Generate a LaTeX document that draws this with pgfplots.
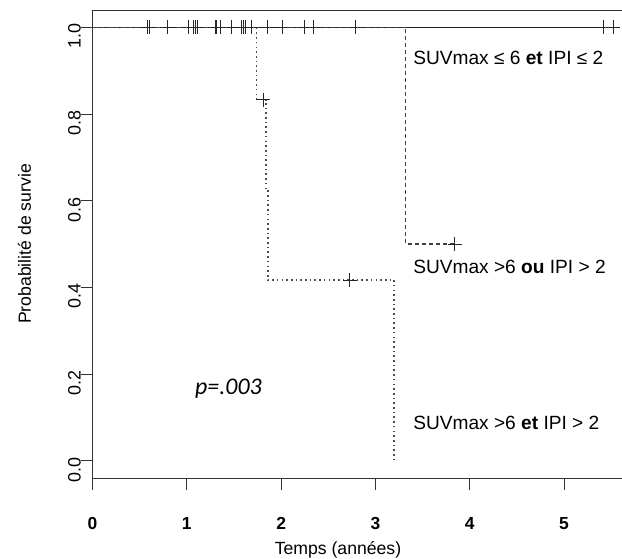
\documentclass[border=0pt]{standalone}
\usepackage{pgfplots}
\pgfplotsset{compat=1.18}
\usepackage{fontspec}
\setmainfont{Liberation Sans}
\newfontfamily\pfont{Carlito}
\begin{document}
\begin{tikzpicture}
\begin{axis}[
  at={(92.5bp,81bp)}, anchor=south west,
  scale only axis, width=532.5bp, height=468bp,
  xmin=0, xmax=5.647, ymin=-0.04, ymax=1.04,
  axis line style={line width=0.9bp, black!80},
  tick style={line width=0.9bp, black!80},
  tick align=outside, major tick length=11.5bp,
  xtick={0,1,2,3,4,5}, ytick={0,0.2,0.4,0.6,0.8,1.0},
  xtick pos=bottom, ytick pos=left,
  /pgf/number format/assume math mode=true,
  yticklabel={\pgfmathprintnumber[fixed,fixed zerofill,precision=1]{\tick}},
  xticklabel style={font=\fontsize{17.5}{20}\selectfont\bfseries, inner sep=0pt, yshift=-28bp},
  yticklabel style={font=\fontsize{18}{20}\selectfont, rotate=90, anchor=south, inner sep=0pt, xshift=-9bp},
  xlabel={Temps (années)},
  xlabel style={font=\fontsize{17.7}{20}\selectfont, at={(axis description cs:0.461,-0.1645)}, anchor=base},
  ylabel={Probabilité de survie},
  ylabel style={font=\fontsize{17.7}{20}\selectfont, at={(axis description cs:-0.1155,0.5)}, anchor=base, rotate=0},
  clip=false,
]
% Group 1: SUVmax <= 6 et IPI <= 2 (no events)
\addplot[line width=1.2bp, black!85] coordinates {(0,1) (5.58,1)};
\addplot[only marks, mark=+, mark size=7bp, mark options={line width=0.9bp, black!85}] coordinates {
(0.58,1) (0.60,1) (0.80,1) (1.02,1) (1.07,1) (1.09,1) (1.11,1) (1.30,1) (1.31,1)
(1.36,1) (1.47,1) (1.58,1) (1.60,1) (1.62,1) (1.69,1) (1.85,1) (2.01,1) (2.25,1)
(2.34,1) (2.79,1) (5.42,1) (5.52,1)};
% Group 2: SUVmax >6 ou IPI > 2
\addplot[line width=1.2bp, black!75, dash pattern=on 4bp off 3bp] coordinates {
(0,1) (3.32,1) (3.32,0.5) (3.84,0.5)};
\addplot[only marks, mark=+, mark size=7bp, mark options={line width=0.9bp, black!85, solid}] coordinates {(3.84,0.5)};
% Group 3: SUVmax >6 et IPI > 2
\addplot[line width=1.6bp, black!70, dash pattern=on 1.6bp off 3.1bp] coordinates {
(0,1) (1.74,1) (1.74,0.8333) (1.84,0.8333) (1.84,0.625) (1.86,0.625) (1.86,0.4167)
(3.20,0.4167) (3.20,0)};
\addplot[only marks, mark=+, mark size=7bp, mark options={line width=0.9bp, black!85, solid}] coordinates {(1.81,0.8333) (2.73,0.4167)};
\node[anchor=base west, inner sep=0pt, font=\fontsize{19.2}{22}\selectfont] at (axis cs:3.40,0.915) {SUVmax ≤ 6 \textbf{et} IPI ≤ 2};
\node[anchor=base west, inner sep=0pt, font=\fontsize{19.2}{22}\selectfont] at (axis cs:3.40,0.4315) {SUVmax >6 \textbf{ou} IPI > 2};
\node[anchor=base west, inner sep=0pt, font=\fontsize{19.2}{22}\selectfont] at (axis cs:3.40,0.0729) {SUVmax >6 \textbf{et} IPI > 2};
\node[anchor=base west, inner sep=0pt, font=\pfont\itshape\fontsize{24}{26}\selectfont] at (axis cs:1.087,0.152) {p=.003};
\end{axis}
\pgfresetboundingbox
\path (0,0) rectangle (622bp,559bp);
\end{tikzpicture}
\end{document}
